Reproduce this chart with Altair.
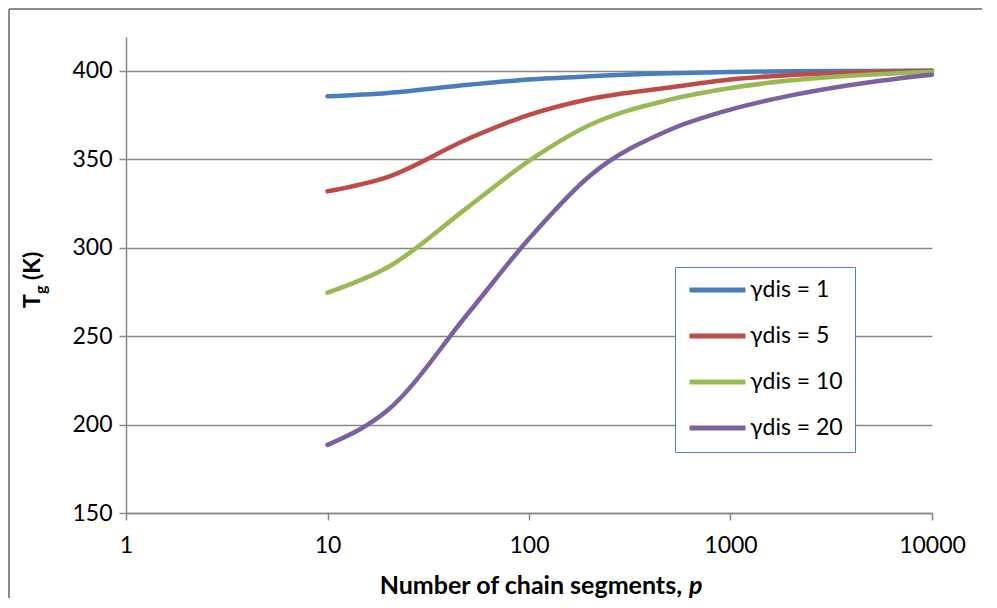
import altair as alt
import pandas as pd

# ---- data ----
p_values = [10, 20, 50, 100, 200, 500, 1000, 2000, 5000, 10000]
tg_gamma1 = [385.5, 387.4, 392.0, 395.0, 396.8, 398.5, 399.2, 399.6, 399.8, 400.0]
tg_gamma5 = [331.8, 340.0, 361.5, 375.0, 384.0, 390.5, 395.0, 397.5, 399.2, 399.8]
tg_gamma10 = [274.5, 289.0, 323.0, 349.0, 369.3, 383.6, 390.2, 394.5, 397.8, 399.4]
tg_gamma20 = [188.5, 208.3, 263.0, 305.0, 340.5, 366.6, 378.0, 386.0, 393.6, 397.7]
series_names = ["γdis = 1", "γdis = 5", "γdis = 10", "γdis = 20"]
series_colors = ["#4A7EBB", "#BE4B48", "#98B954", "#7D60A0"]
x_ticks = [1, 10, 100, 1000, 10000]
y_ticks = [150, 200, 250, 300, 350, 400]

rows = []
for name, vals in zip(series_names, [tg_gamma1, tg_gamma5, tg_gamma10, tg_gamma20]):
    for p, v in zip(p_values, vals):
        rows.append({"p": p, "Tg": v, "series": name})
df = pd.DataFrame(rows)
one = pd.DataFrame({"k": [0]})

FONT = "Lato, Open Sans, DejaVu Sans"
GRID = "#888888"
W, H = 806, 476

lines = alt.Chart(df).mark_line(strokeWidth=4.5, interpolate="monotone", strokeCap="round").encode(
    x=alt.X("p:Q", scale=alt.Scale(type="log", domain=[1, 10000]),
            axis=alt.Axis(values=x_ticks, format="d", title=None, grid=False,
                          domainColor=GRID, domainWidth=1.5, tickColor=GRID, tickWidth=1.5,
                          tickSize=7, labelFontSize=23, labelFont=FONT, labelColor="#000000",
                          labelPadding=14, labelFlush=False)),
    y=alt.Y("Tg:Q", scale=alt.Scale(domain=[150, 419], nice=False, zero=False),
            axis=alt.Axis(values=y_ticks, title=None, grid=True, gridColor=GRID, gridWidth=1.5,
                          domainColor=GRID, domainWidth=1.5, tickColor=GRID, tickWidth=1.5,
                          tickSize=7, labelFontSize=23, labelFont=FONT, labelColor="#000000",
                          labelPadding=7)),
    color=alt.Color("series:N", sort=series_names,
                    scale=alt.Scale(domain=series_names, range=series_colors),
                    legend=alt.Legend(title=None, orient="none", legendX=549, legendY=230,
                                      symbolType="stroke", symbolSize=3136, symbolStrokeWidth=5,
                                      clipHeight=22, rowPadding=23, labelOffset=2,
                                      labelFontSize=23, labelFont=FONT, labelColor="#000000",
                                      strokeColor="#4F81BD", fillColor="#FFFFFF",
                                      padding=12)),
)

xtitle_main = alt.Chart(one).mark_text(text="Number of chain segments,", font=FONT, fontSize=25,
                                       fontWeight="bold", align="right", baseline="alphabetic",
                                       color="#000000").encode(x=alt.value(556), y=alt.value(557))
xtitle_p = alt.Chart(one).mark_text(text="p", font=FONT, fontSize=25, fontWeight="bold",
                                    fontStyle="italic", align="left", baseline="alphabetic",
                                    color="#000000").encode(x=alt.value(563), y=alt.value(557))

ytitle_T = alt.Chart(one).mark_text(text="T", font=FONT, fontSize=23, fontWeight="bold", angle=270,
                                    align="left", baseline="alphabetic", color="#000000").encode(
    x=alt.value(-86), y=alt.value(271))
ytitle_g = alt.Chart(one).mark_text(text="g", font=FONT, fontSize=16, fontWeight="bold", angle=270,
                                    align="left", baseline="alphabetic", color="#000000").encode(
    x=alt.value(-80), y=alt.value(257))
ytitle_K = alt.Chart(one).mark_text(text="(K)", font=FONT, fontSize=23, fontWeight="bold", angle=270,
                                    align="left", baseline="alphabetic", color="#000000").encode(
    x=alt.value(-86), y=alt.value(243))

frame_left = alt.Chart(one).mark_rule(color="#8c8c8c", strokeWidth=2).encode(
    x=alt.value(-117), y=alt.value(-28), y2=alt.value(575))
frame_top = alt.Chart(one).mark_rule(color="#8c8c8c", strokeWidth=2).encode(
    x=alt.value(-117), x2=alt.value(860), y=alt.value(-28))

chart = alt.layer(lines, xtitle_main, xtitle_p, ytitle_T, ytitle_g, ytitle_K, frame_left, frame_top).properties(
    width=W, height=H,
    autosize=alt.AutoSizeParams(type="none"),
    padding={"left": 118, "top": 29, "right": 50, "bottom": 85},
    background="#FFFFFF",
).configure_view(stroke=None)

chart.save("out.html", embed_options={"renderer": "svg", "actions": False})
